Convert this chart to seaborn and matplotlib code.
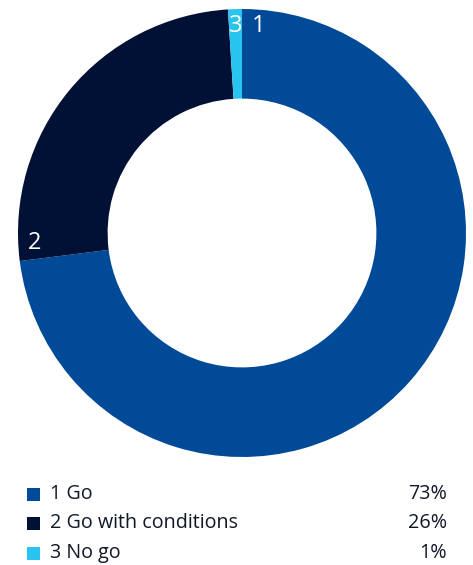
import numpy as np
import seaborn as sns
import matplotlib.pyplot as plt
from matplotlib.patches import Rectangle

# 数据
labels = ["1 Go", "2 Go with conditions", "3 No go"]
short = ["1", "2", "3"]
shares = [73, 26, 1]
colors = ["#004A98", "#001135", "#29C3EF"]

sns.set_theme(style="white")
plt.rcParams['font.family'] = ['Open Sans', 'DejaVu Sans']

fig = plt.figure(figsize=(4.73, 5.65), dpi=100)
ax = fig.add_axes([18 / 473, 1 - 457 / 565, 448 / 473, 448 / 565])

palette = sns.color_palette(colors)
ax.pie(shares, colors=palette, startangle=90, counterclock=False,
       wedgeprops=dict(width=0.4, linewidth=0))
ax.set_aspect('equal')
ax.set_xlim(-1, 1)
ax.set_ylim(-1, 1)

# 标签放在每个扇区起点附近
start = np.cumsum([0] + shares[:-1]) / sum(shares) * 360
for s, w, t in zip(start, shares, short):
    off = min(4.5, w / sum(shares) * 360 / 2)
    ang = np.deg2rad(90 - (s + off))
    ax.text(0.925 * np.cos(ang), 0.925 * np.sin(ang), t, color='white',
            fontsize=17, ha='center', va='center')

# 图例
rows_y = [494, 523, 553]
for y, lab, c, v in zip(rows_y, labels, colors, shares):
    fy = 1 - y / 565
    fig.patches.append(Rectangle((27 / 473, fy - 6.5 / 565), 13 / 473, 13 / 565,
                                 transform=fig.transFigure, color=c, linewidth=0))
    fig.text(50 / 473, fy, lab, fontsize=14.2, color='#111827', va='center')
    fig.text(447 / 473, fy, f"{v}%", fontsize=14.2, color='#111827', va='center', ha='right')

plt.savefig("out.png", dpi=100)
plt.close()
